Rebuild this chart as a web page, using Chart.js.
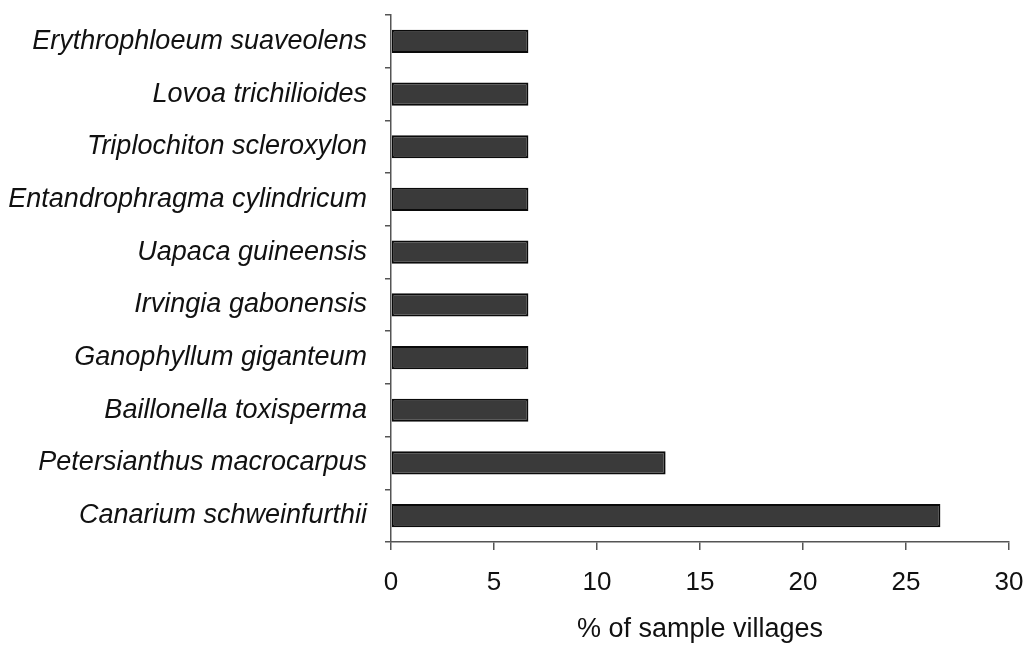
<!DOCTYPE html>
<html>
<head>
<meta charset="utf-8">
<script src="https://cdn.jsdelivr.net/npm/chart.js@4/dist/chart.umd.min.js"></script>
<style>
  html, body { margin: 0; padding: 0; background: #ffffff; }
  #wrap { width: 1026px; height: 646px; }
</style>
</head>
<body>
<div id="wrap"><canvas id="c" width="1026" height="646"></canvas></div>
<script>
const species = [
  "Erythrophloeum suaveolens",
  "Lovoa trichilioides",
  "Triplochiton scleroxylon",
  "Entandrophragma cylindricum",
  "Uapaca guineensis",
  "Irvingia gabonensis",
  "Ganophyllum giganteum",
  "Baillonella toxisperma",
  "Petersianthus macrocarpus",
  "Canarium schweinfurthii"
];
const pctVillages = [6.67, 6.67, 6.67, 6.67, 6.67, 6.67, 6.67, 6.67, 13.33, 26.67];
const xTicks = [0, 5, 10, 15, 20, 25, 30];
const xTitle = "% of sample villages";

const FONT = "'Liberation Sans', Arial, Helvetica, sans-serif";

new Chart(document.getElementById('c'), {
  type: 'bar',
  data: {
    labels: species,
    datasets: [{
      data: pctVillages,
      backgroundColor: '#3a3a3a',
      borderColor: '#0a0a0a',
      borderWidth: 2,
      borderSkipped: false,
      barPercentage: 0.44,
      categoryPercentage: 1.0
    }]
  },
  options: {
    indexAxis: 'y',
    responsive: false,
    animation: false,
    layout: { padding: { left: 0, right: 17, top: 15, bottom: 0 } },
    plugins: { legend: { display: false }, tooltip: { enabled: false } },
    scales: {
      x: {
        min: 0, max: 30,
        afterBuildTicks: (s) => { s.ticks = xTicks.map(v => ({ value: v })); },
        afterFit: (s) => { s.height = 104; s.paddingLeft = 0; s.paddingRight = 0; },
        grid: { drawOnChartArea: false, drawTicks: true, tickLength: 8, color: '#555', lineWidth: 1.5 },
        border: { display: true, color: '#555', width: 1.5 },
        ticks: { color: '#111', font: { family: FONT, size: 26 }, padding: 17, maxRotation: 0 },
        title: { display: true, text: xTitle, color: '#111', font: { family: FONT, size: 27 }, padding: { top: 10, bottom: 0 } }
      },
      y: {
        afterFit: (s) => { s.width = 391; s.paddingTop = 0; s.paddingBottom = 0; },
        grid: { drawOnChartArea: false, drawTicks: true, tickLength: 6, color: '#555', lineWidth: 1.5, offset: true },
        border: { display: true, color: '#555', width: 1.5 },
        ticks: { color: '#111', font: { family: FONT, size: 27, style: 'italic' }, padding: 18, autoSkip: false }
      }
    }
  }
});
</script>
</body>
</html>
